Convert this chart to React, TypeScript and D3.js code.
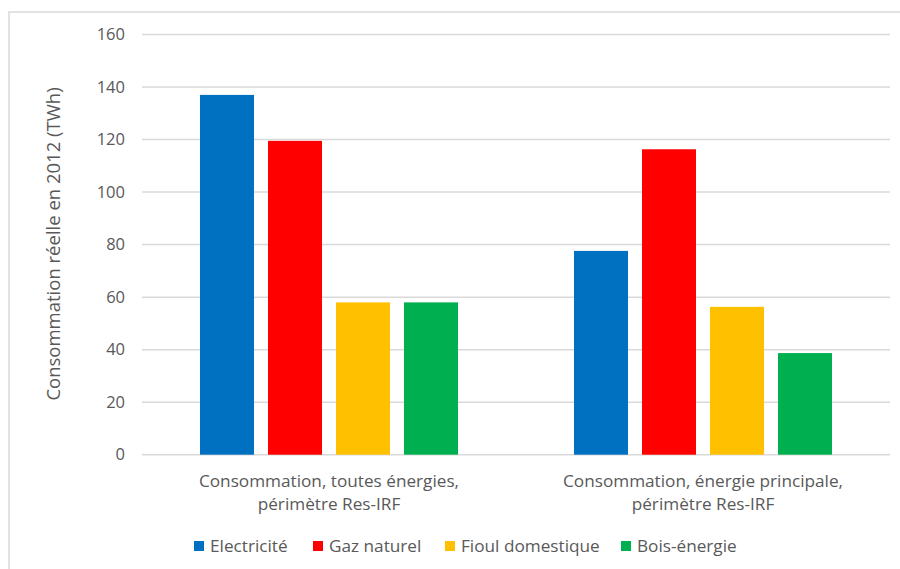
import React, { useEffect, useRef } from "react";
import * as d3 from "d3";

const categories: string[][] = [
  ["Consommation, toutes énergies,", "périmètre Res-IRF"],
  ["Consommation, énergie principale,", "périmètre Res-IRF"],
];
const seriesNames = ["Electricité", "Gaz naturel", "Fioul domestique", "Bois-énergie"];
const seriesColors = ["#0070C0", "#FF0000", "#FFC000", "#00B050"];
const electricite = [137, 77.6];
const gazNaturel = [119.5, 116.3];
const fioul = [58, 56.3];
const bois = [58, 38.7];
const yTicks = [0, 20, 40, 60, 80, 100, 120, 140, 160];
const yTitle = "Consommation réelle en 2012 (TWh)";

const W = 900;
const H = 569;
const FONT = "'Open Sans', 'Noto Sans', sans-serif";

export default function App() {
  const ref = useRef<SVGSVGElement>(null);
  useEffect(() => {
    const svg = d3.select(ref.current);
    svg.selectAll("*").remove();
    const values = [electricite, gazNaturel, fioul, bois];
    const left = 142, right = 890, top = 34.5, bottom = 454.7;

    svg.append("rect").attr("x", 0).attr("y", 0).attr("width", W).attr("height", H).attr("fill", "#fff");
    svg.append("rect").attr("x", 9).attr("y", 12).attr("width", W + 20).attr("height", H + 20)
      .attr("fill", "none").attr("stroke", "#d9d9d9").attr("stroke-width", 1.5);

    const y = d3.scaleLinear().domain([0, 160]).range([bottom, top]);
    const x0 = d3.scaleBand<number>().domain(categories.map((_, i) => i)).range([left, right]).padding(0);
    const groupPad = 58;
    const x1 = d3.scaleBand<number>().domain(seriesNames.map((_, i) => i))
      .range([groupPad, x0.bandwidth() - groupPad]).paddingInner(0.206).paddingOuter(0);

    const g = svg.append("g");
    yTicks.forEach((t) => {
      g.append("line").attr("x1", left).attr("x2", right).attr("y1", y(t)).attr("y2", y(t))
        .attr("stroke", "#d9d9d9").attr("stroke-width", 1.5);
      g.append("text").attr("x", 125).attr("y", y(t)).attr("dy", "0.35em").attr("text-anchor", "end")
        .attr("font-family", FONT).attr("font-size", 16.5).attr("fill", "#595959").text(t);
    });

    categories.forEach((_, ci) => {
      values.forEach((arr, si) => {
        g.append("rect")
          .attr("x", x0(ci)! + x1(si)!)
          .attr("y", y(arr[ci]))
          .attr("width", x1.bandwidth())
          .attr("height", y(0) - y(arr[ci]))
          .attr("fill", seriesColors[si]);
      });
    });

    categories.forEach((lines, ci) => {
      const cx = x0(ci)! + x0.bandwidth() / 2;
      lines.forEach((l, li) => {
        g.append("text").attr("x", cx).attr("y", 487 + li * 23).attr("text-anchor", "middle")
          .attr("font-family", FONT).attr("font-size", 17.2).attr("fill", "#595959").text(l);
      });
    });

    g.append("text").attr("transform", `translate(60,244) rotate(-90)`).attr("text-anchor", "middle")
      .attr("font-family", FONT).attr("font-size", 18.5).attr("fill", "#595959").text(yTitle);

    const legendX = [194, 313, 445, 621];
    seriesNames.forEach((n, i) => {
      g.append("rect").attr("x", legendX[i]).attr("y", 541).attr("width", 10).attr("height", 10)
        .attr("fill", seriesColors[i]);
      g.append("text").attr("x", legendX[i] + 16).attr("y", 546).attr("dy", "0.35em")
        .attr("font-family", FONT).attr("font-size", 17.2).attr("fill", "#595959").text(n);
    });
  }, []);
  return (
    <svg ref={ref} width={W} height={H} style={{ position: "absolute", left: 0, top: 0 }} />
  );
}
